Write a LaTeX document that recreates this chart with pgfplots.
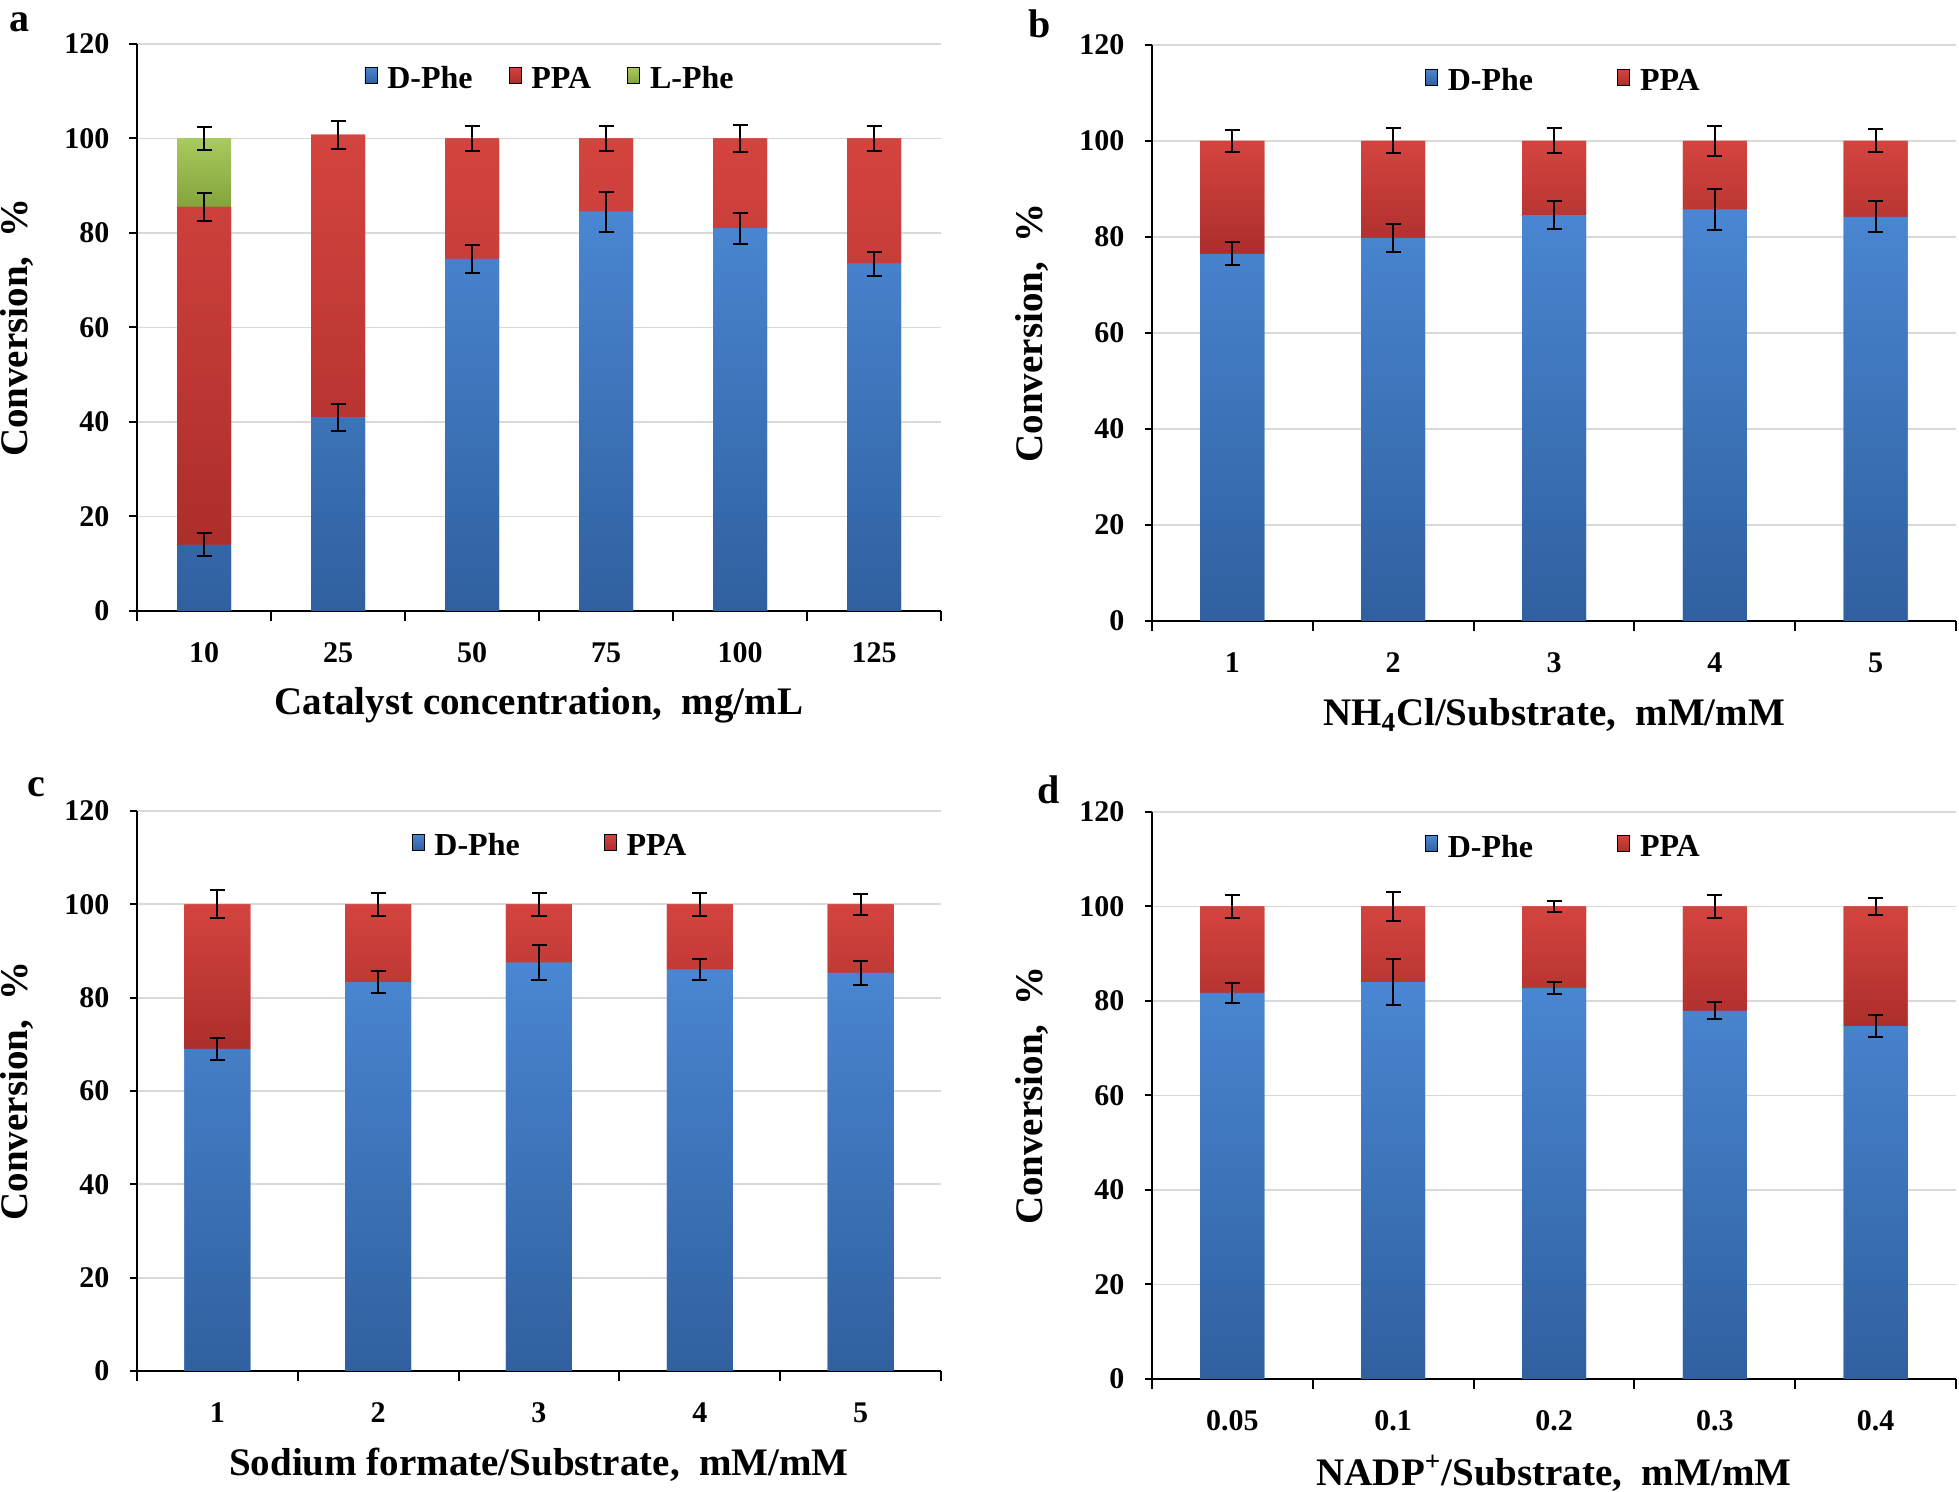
\documentclass[border=0pt]{standalone}
\usepackage{fontspec}
\setmainfont{Liberation Serif}
\usepackage{pgfplots}
\pgfplotsset{compat=1.18}
\definecolor{blueT}{HTML}{4A86D2}
\definecolor{blueB}{HTML}{30609F}
\definecolor{blueM}{HTML}{3A72BE}
\definecolor{redT}{HTML}{D4443F}
\definecolor{redB}{HTML}{AC2E2B}
\definecolor{redM}{HTML}{C2393A}
\definecolor{greenT}{HTML}{A9CA5E}
\definecolor{greenB}{HTML}{83A33C}
\definecolor{greenM}{HTML}{96B84C}
\pgfplotsset{
  legend image code/.code={\fill[#1] (0pt,-4pt) rectangle (8pt,4pt);},
  base/.style={
    scale only axis, anchor=south west,
    ymin=0, ymax=120, ytick={0,20,...,120},
    axis x line*=bottom, axis y line*=left,
    axis line style={black, line width=1pt},
    ymajorgrids, grid style={draw=gray!30, line width=0.9pt},
    tick align=outside, major tick length=3.75pt, minor tick length=5pt,
    tick style={black, line width=1pt},
    major x tick style={draw=none},
    /pgf/number format/assume math mode=true,
    tick label style={font=\fontsize{15}{15}\selectfont\bfseries},
    yticklabel style={anchor=east, xshift=-6.5pt},
    xticklabel style={anchor=center, yshift=-17pt},
    label style={font=\fontsize{19.5}{19.5}\selectfont\bfseries},
    ylabel style={at={(axis description cs:-0.149,0.5)}, anchor=center, rotate=0},
    xlabel style={at={(axis description cs:0.5,0)}, anchor=center, yshift=-47pt},
    ylabel={Conversion,~~\%},
    legend style={draw=none, fill=none, anchor=center,
      font=\fontsize{16}{16}\selectfont\bfseries,
      legend columns=-1,
      /tikz/every odd column/.append style={column sep=3pt},
      /tikz/every even column/.append style={column sep=40pt}},
  },
  over/.style={scale only axis, anchor=south west, ymin=0, ymax=120, hide axis},
  eb/.style={draw=none, no markers,
    error bars/.cd, y dir=both, y explicit,
    error bar style={draw=black, line width=1pt},
    error mark options={rotate=90, mark size=3.75pt, line width=1pt, draw=black}},
  dphe/.style={fill=blueM, draw=none, top color=blueT, bottom color=blueB},
  ppa/.style={fill=redM, draw=none, top color=redT, bottom color=redB},
  lphe/.style={fill=greenM, draw=none, top color=greenT, bottom color=greenB},
}
\begin{document}
\begin{tikzpicture}
\useasboundingbox (0pt,0pt) rectangle (979.5pt,746pt);
% ---------- panel a ----------
\begin{axis}[base, at={(68.5pt,440.5pt)}, width=402pt, height=283.5pt,
  ybar stacked, bar width=27pt,
  xmin=0.5, xmax=6.5, xtick={1,...,6},
  xticklabels={10,25,50,75,100,125},
  minor xtick={0.5,1.5,...,6.5},
  xlabel={Catalyst concentration,~~mg/mL},
  legend style={at={(axis description cs:0.515,0.938)},
    /tikz/every even column/.append style={column sep=16pt}}]
\addplot[dphe] coordinates {(1,14) (2,41) (3,74.5) (4,84.5) (5,81) (6,73.5)};
\addplot[ppa] coordinates {(1,71.5) (2,59.8) (3,25.5) (4,15.5) (5,19) (6,26.5)};
\addplot[lphe] coordinates {(1,14.5) (2,0) (3,0) (4,0) (5,0) (6,0)};
\legend{D-Phe,PPA,L-Phe}
\end{axis}
\begin{axis}[over, at={(68.5pt,440.5pt)}, width=402pt, height=283.5pt, xmin=0.5, xmax=6.5]
\addplot[eb] coordinates {
 (1,14) +- (0,2.4) (1,85.5) +- (0,3) (1,100) +- (0,2.5)
 (2,41) +- (0,2.9) (2,100.8) +- (0,3)
 (3,74.5) +- (0,3) (3,100) +- (0,2.7)
 (4,84.5) +- (0,4.2) (4,100) +- (0,2.7)
 (5,81) +- (0,3.3) (5,100) +- (0,2.8)
 (6,73.5) +- (0,2.5) (6,100) +- (0,2.6)};
\end{axis}
% ---------- panel b ----------
\begin{axis}[base, at={(576pt,435.5pt)}, width=402pt, height=288pt,
  ybar stacked, bar width=32pt,
  xmin=0.5, xmax=5.5, xtick={1,...,5},
  xticklabels={1,2,3,4,5},
  minor xtick={0.5,1.5,...,5.5},
  xlabel={NH\textsubscript{4}Cl/Substrate,~~mM/mM},
  legend style={at={(axis description cs:0.513,0.937)}}]
\addplot[dphe] coordinates {(1,76.5) (2,79.8) (3,84.5) (4,85.7) (5,84.2)};
\addplot[ppa] coordinates {(1,23.5) (2,20.2) (3,15.5) (4,14.3) (5,15.8)};
\legend{D-Phe,PPA}
\end{axis}
\begin{axis}[over, at={(576pt,435.5pt)}, width=402pt, height=288pt, xmin=0.5, xmax=5.5]
\addplot[eb] coordinates {
 (1,76.5) +- (0,2.4) (1,100) +- (0,2.2)
 (2,79.8) +- (0,2.9) (2,100) +- (0,2.6)
 (3,84.5) +- (0,2.9) (3,100) +- (0,2.6)
 (4,85.7) +- (0,4.2) (4,100) +- (0,3.2)
 (5,84.2) +- (0,3.2) (5,100) +- (0,2.4)};
\end{axis}
% ---------- panel c ----------
\begin{axis}[base, at={(68.5pt,60.5pt)}, width=402pt, height=280pt,
  ybar stacked, bar width=33pt,
  xmin=0.5, xmax=5.5, xtick={1,...,5},
  xticklabels={1,2,3,4,5},
  minor xtick={0.5,1.5,...,5.5},
  xlabel={Sodium formate/Substrate,~~mM/mM},
  legend style={at={(axis description cs:0.515,0.937)}}]
\addplot[dphe] coordinates {(1,69) (2,83.3) (3,87.5) (4,86) (5,85.3)};
\addplot[ppa] coordinates {(1,31) (2,16.7) (3,12.5) (4,14) (5,14.7)};
\legend{D-Phe,PPA}
\end{axis}
\begin{axis}[over, at={(68.5pt,60.5pt)}, width=402pt, height=280pt, xmin=0.5, xmax=5.5]
\addplot[eb] coordinates {
 (1,69) +- (0,2.4) (1,100) +- (0,3)
 (2,83.3) +- (0,2.4) (2,100) +- (0,2.5)
 (3,87.5) +- (0,3.7) (3,100) +- (0,2.5)
 (4,86) +- (0,2.3) (4,100) +- (0,2.5)
 (5,85.3) +- (0,2.6) (5,100) +- (0,2.2)};
\end{axis}
% ---------- panel d ----------
\begin{axis}[base, at={(576pt,56.5pt)}, width=402pt, height=283.5pt,
  ybar stacked, bar width=32pt,
  xmin=0.5, xmax=5.5, xtick={1,...,5},
  xticklabels={0.05,0.1,0.2,0.3,0.4},
  minor xtick={0.5,1.5,...,5.5},
  xlabel={NADP\textsuperscript{+}/Substrate,~~mM/mM},
  legend style={at={(axis description cs:0.513,0.937)}}]
\addplot[dphe] coordinates {(1,81.7) (2,84) (3,82.8) (4,77.9) (5,74.7)};
\addplot[ppa] coordinates {(1,18.3) (2,16) (3,17.2) (4,22.1) (5,25.3)};
\legend{D-Phe,PPA}
\end{axis}
\begin{axis}[over, at={(576pt,56.5pt)}, width=402pt, height=283.5pt, xmin=0.5, xmax=5.5]
\addplot[eb] coordinates {
 (1,81.7) +- (0,2.2) (1,100) +- (0,2.5)
 (2,84) +- (0,4.9) (2,100) +- (0,3)
 (3,82.8) +- (0,1.3) (3,100) +- (0,1.1)
 (4,77.9) +- (0,1.8) (4,100) +- (0,2.5)
 (5,74.7) +- (0,2.3) (5,100) +- (0,1.9)};
\end{axis}
% panel letters
\node[font=\fontsize{20}{20}\selectfont\bfseries] at (10pt,735pt) {a};
\node[font=\fontsize{20}{20}\selectfont\bfseries] at (520pt,734pt) {b};
\node[font=\fontsize{20}{20}\selectfont\bfseries] at (18pt,352.5pt) {c};
\node[font=\fontsize{20}{20}\selectfont\bfseries] at (524.5pt,351pt) {d};
\end{tikzpicture}
\end{document}
